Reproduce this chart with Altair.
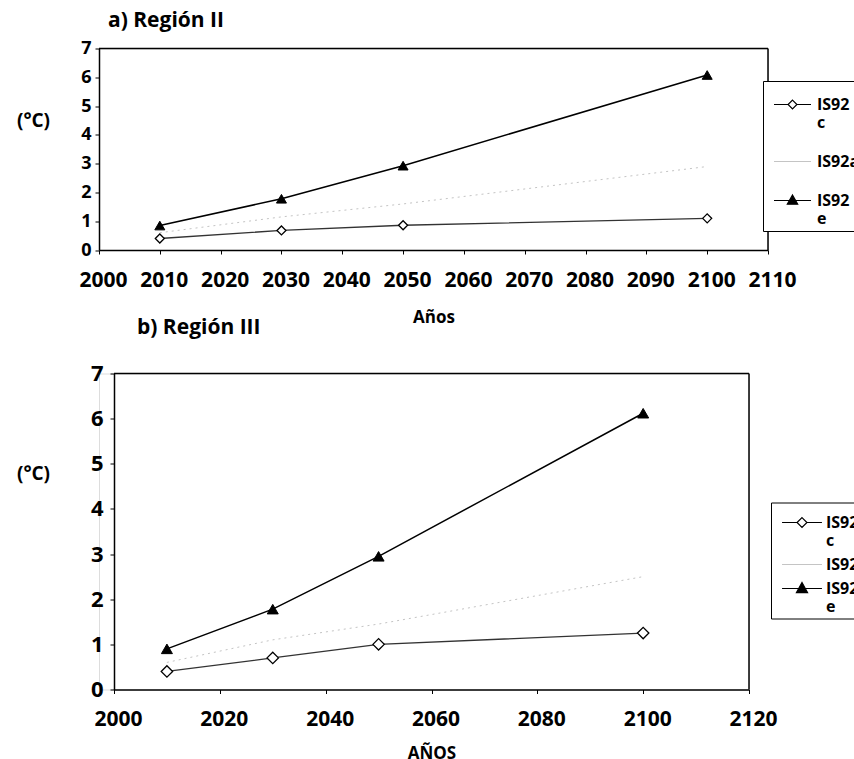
import altair as alt
import pandas as pd

# ---------------- data ----------------
years = [2010, 2030, 2050, 2100]
series = ["IS92c", "IS92a", "IS92e"]

# a) Región II
a_c = [0.40, 0.68, 0.86, 1.10]
a_a = [0.60, 1.15, 1.60, 2.90]
a_e = [0.85, 1.78, 2.93, 6.08]

# b) Región III
b_c = [0.40, 0.70, 1.00, 1.25]
b_a = [0.60, 1.10, 1.45, 2.50]
b_e = [0.90, 1.78, 2.95, 6.12]

a_xticks = [2000, 2010, 2020, 2030, 2040, 2050, 2060, 2070, 2080, 2090, 2100, 2110]
b_xticks = [2000, 2020, 2040, 2060, 2080, 2100, 2120]
yticks = [0, 1, 2, 3, 4, 5, 6, 7]
a_xdomain = [2000, 2110]
b_xdomain = [2000, 2120]
ydomain = [0, 7]

FONT = "Open Sans"


def long_df(c, a, e):
    rows = []
    for s, vals in zip(series, [c, a, e]):
        for yr, v in zip(years, vals):
            rows.append({"year": yr, "value": v, "series": s})
    return pd.DataFrame(rows)


def panel(df, xdomain, xticks, width, height, xrange, yoff, xaxis_title,
          x_label_size, y_label_size, y_label_pad, ytitle_x, ytitle_y, xtitle_y,
          paths, sym_size, legend_x, legend_y, row_pad, label_offset, sym_offset,
          d_size, t_size, title_text, title_dx, title_offset):
    xs = alt.Scale(domain=xdomain, range=xrange, nice=False, zero=False)
    ys = alt.Scale(domain=ydomain, nice=False, zero=True)
    xa = alt.Axis(values=xticks, format="d", title=xaxis_title, grid=False,
                  labelFontSize=x_label_size, labelPadding=15, labelOffset=4,
                  labelOverlap=False, labelFlush=False, tickSize=4,
                  domainWidth=1.5, titleFontSize=17, titleY=xtitle_y,
                  titleBaseline="middle")
    ya = alt.Axis(values=yticks, title="(°C)", grid=False, offset=yoff,
                  labelFontSize=y_label_size, labelPadding=y_label_pad,
                  tickSize=4, domainWidth=1.5, titleAngle=0, titleX=ytitle_x,
                  titleY=ytitle_y, titleAlign="center", titleBaseline="middle",
                  titleFontSize=19)
    X = alt.X("year:Q", scale=xs, axis=xa)
    Y = alt.Y("value:Q", scale=ys, axis=ya)

    base = alt.Chart(df)

    line_c = base.transform_filter(alt.datum.series == "IS92c").mark_line(
        color="#333333", strokeWidth=1.3).encode(x=X, y=Y)
    line_a = base.transform_filter(alt.datum.series == "IS92a").mark_line(
        color="#c4c4c4", strokeWidth=1, strokeDash=[2, 4]).encode(x=X, y=Y)
    line_e = base.transform_filter(alt.datum.series == "IS92e").mark_line(
        color="black", strokeWidth=1.5).encode(x=X, y=Y)

    pts_c = base.transform_filter(alt.datum.series == "IS92c").mark_point(
        shape="diamond", filled=True, fill="white", stroke="black",
        strokeWidth=1.3, size=d_size, opacity=1).encode(x=X, y=Y)
    pts_e = base.transform_filter(alt.datum.series == "IS92e").mark_point(
        shape="triangle-up", filled=True, fill="black", stroke="black",
        strokeWidth=1, size=t_size, opacity=1).encode(x=X, y=Y)

    frame_df = pd.DataFrame({
        "year": [xdomain[0], xdomain[1]],
        "year2": [xdomain[1], xdomain[1]],
        "value": [ydomain[1], ydomain[0]],
        "value2": [ydomain[1], ydomain[1]],
    })
    frame = alt.Chart(frame_df).mark_rule(color="black", strokeWidth=1.5).encode(
        x=X, x2="year2:Q", y=Y, y2="value2:Q")

    leg = alt.Legend(
        title=None, orient="none", legendX=legend_x, legendY=legend_y,
        direction="vertical", padding=4, symbolOffset=sym_offset,
        strokeColor="black", fillColor="white", labelFont=FONT,
        labelFontSize=16, labelFontWeight="bold", labelColor="black",
        labelOffset=label_offset, rowPadding=row_pad, symbolSize=sym_size,
        symbolStrokeWidth=1.2, labelLimit=300, labelBaseline="middle",
        labelExpr="datum.label == 'IS92a' ? datum.label : [slice(datum.label, 0, 4), slice(datum.label, 4)]",
    )
    legend_layer = base.transform_filter("false").mark_point(
        size=sym_size, strokeWidth=1.2, opacity=1).encode(
        x=X, y=Y,
        shape=alt.Shape("series:N", scale=alt.Scale(domain=series, range=paths), legend=leg),
        fill=alt.Fill("series:N", scale=alt.Scale(domain=series, range=["white", "transparent", "black"]), legend=leg),
        stroke=alt.Stroke("series:N", scale=alt.Scale(domain=series, range=["black", "#c4c4c4", "black"]), legend=leg),
    )

    return alt.layer(line_a, line_c, line_e, pts_c, pts_e, frame, legend_layer).properties(
        width=width, height=height,
        title=alt.Title(title_text, anchor="start", frame="group", dx=title_dx,
                        offset=title_offset, fontSize=21, fontWeight="bold",
                        font=FONT, color="black"),
    )


paths_a = [
    "M-1,0L-0.24,0M0.24,0L1,0M0,-0.24L0.24,0L0,0.24L-0.24,0Z",
    "M-1,0L1,0",
    "M-1,0L1,0M0,-0.3L0.28,0.2L-0.28,0.2Z",
]
paths_b = [
    "M-1.33,0L-0.33,0M0.33,0L1.33,0M0,-0.33L0.33,0L0,0.33L-0.33,0Z",
    "M-1.33,0L1.33,0",
    "M-1.33,0L1.33,0M0,-0.4L0.37,0.27L-0.37,0.27Z",
]

chart_a = panel(long_df(a_c, a_a, a_e), a_xdomain, a_xticks, 669, 201.5, [0, 669], 0,
                "Años", 21, 18, 4, -66, 71.5, 67,
                paths_a, 1369, 664, 32.5, 11, 5, 6,
                81, 100, "a) Región II", 9, 9)
chart_b = panel(long_df(b_c, b_a, b_e), b_xdomain, b_xticks, 650, 316, [15, 650], -15,
                "AÑOS", 21, 22, 7, -81, 100, 64,
                paths_b, 900, 672, 129, 0, 8, 11,
                130, 121, "b) Región III", 38, 25)

chart = alt.vconcat(chart_a, chart_b, spacing=123, bounds="flush").resolve_scale(
    shape="independent", fill="independent", stroke="independent"
).properties(
    autosize=alt.AutoSizeParams(type="none"),
    padding={"left": 99, "top": 48.5, "right": 755, "bottom": 710},
    background="white",
).configure_view(stroke=None).configure(font=FONT).configure_axis(
    labelFont=FONT, titleFont=FONT, labelFontWeight="bold", titleFontWeight="bold",
    labelColor="black", titleColor="black", domainColor="black", tickColor="black",
)

chart.save("out.html", embed_options={"renderer": "svg", "actions": False})
